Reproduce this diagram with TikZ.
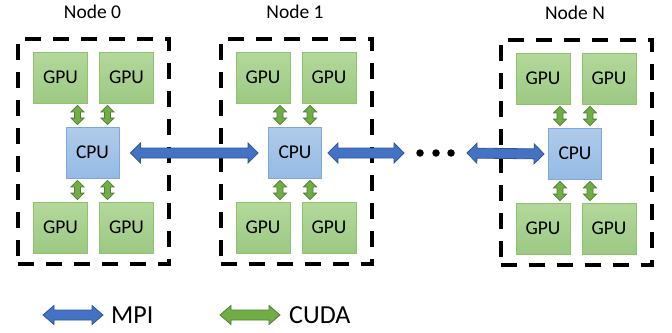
\documentclass[tikz,border=0pt]{standalone}
\usepackage{fontspec}
\setmainfont{Carlito}
\usetikzlibrary{calc}
\definecolor{gpuTop}{HTML}{B3D89B}
\definecolor{gpuBot}{HTML}{9CC983}
\definecolor{gpuLine}{HTML}{8FC26B}
\definecolor{cpuTop}{HTML}{B0CBEA}
\definecolor{cpuBot}{HTML}{95BBE5}
\definecolor{cpuLine}{HTML}{7EA8DA}
\definecolor{mpiFill}{HTML}{4472C4}
\definecolor{mpiLine}{HTML}{2F5597}
\definecolor{cudaFill}{HTML}{70AD47}
\definecolor{cudaLine}{HTML}{507E32}
% double-headed block arrow: start, end, style, shaft half, head half, head length
\newcommand\dblarrow[6]{%
  \filldraw[#3] (#1)
   -- ($(#1)!#6!(#2)!#5!90:(#2)$)
   -- ($(#1)!#6!(#2)!#4!90:(#2)$)
   -- ($(#2)!#6!(#1)!#4!-90:(#1)$)
   -- ($(#2)!#6!(#1)!#5!-90:(#1)$)
   -- (#2)
   -- ($(#2)!#6!(#1)!#5!90:(#1)$)
   -- ($(#2)!#6!(#1)!#4!90:(#1)$)
   -- ($(#1)!#6!(#2)!#4!-90:(#2)$)
   -- ($(#1)!#6!(#2)!#5!-90:(#2)$)
   -- cycle;}
% one compute node: name, cx, cy, label
\newcommand\computenode[4]{%
  \node[nodebox] (#1box) at (#2,#3) {};
  \node[lbl] (#1lbl) at (#2-1,#3-139.5) {#4};
  \node[cpu] (#1cpu) at (#2-1,#3+1) {CPU};
  \node[gpu] (#1ga) at (#2-33,#3-74) {GPU};
  \node[gpu] (#1gb) at (#2+33,#3-74) {GPU};
  \node[gpu] (#1gc) at (#2-33,#3+76) {GPU};
  \node[gpu] (#1gd) at (#2+33,#3+76) {GPU};
  \coordinate (#1t1a) at ($(#1ga.south -| #1cpu.north)+(-15,2)$);
  \coordinate (#1t1b) at ($(#1cpu.north)+(-15,-2)$);
  \coordinate (#1t2a) at ($(#1gb.south -| #1cpu.north)+(15,2)$);
  \coordinate (#1t2b) at ($(#1cpu.north)+(15,-2)$);
  \coordinate (#1b1a) at ($(#1cpu.south)+(-15,2)$);
  \coordinate (#1b1b) at ($(#1gc.north -| #1cpu.south)+(-15,-2)$);
  \coordinate (#1b2a) at ($(#1cpu.south)+(15,2)$);
  \coordinate (#1b2b) at ($(#1gd.north -| #1cpu.south)+(15,-2)$);
  \dblarrow{#1t1a}{#1t1b}{cudaarrow}{3pt}{6.5pt}{6.5pt}
  \dblarrow{#1t2a}{#1t2b}{cudaarrow}{3pt}{6.5pt}{6.5pt}
  \dblarrow{#1b1a}{#1b1b}{cudaarrow}{3pt}{6.5pt}{6.5pt}
  \dblarrow{#1b2a}{#1b2b}{cudaarrow}{3pt}{6.5pt}{6.5pt}
}
\begin{document}
\begin{tikzpicture}[x=1pt,y=-1pt,
  gpu/.style={draw=gpuLine, line width=0.8pt, top color=gpuTop, bottom color=gpuBot,
    minimum width=54pt, minimum height=51pt, inner sep=0pt,
    font=\fontsize{19.5}{22}\selectfont},
  cpu/.style={draw=cpuLine, line width=0.8pt, top color=cpuTop, bottom color=cpuBot,
    minimum width=53pt, minimum height=51pt, inner sep=0pt,
    font=\fontsize{19.5}{22}\selectfont},
  nodebox/.style={draw=black, line width=4pt, dash pattern=on 16pt off 12pt,
    minimum width=151pt, minimum height=225pt, inner sep=0pt, outer sep=0pt},
  lbl/.style={inner sep=0pt, font=\fontsize{19.5}{22}\selectfont},
  legtext/.style={inner sep=0pt, anchor=west, font=\fontsize{26}{28}\selectfont},
  mpiarrow/.style={fill=mpiFill, draw=mpiLine, line width=0.8pt},
  cudaarrow/.style={fill=cudaFill, draw=cudaLine, line width=0.8pt},
  dot/.style={circle, fill=black, inner sep=0pt, minimum size=7.5pt}
]
\useasboundingbox (0,0) rectangle (672,332);
\computenode{n0}{93.5}{151.5}{Node 0}
\computenode{n1}{296}{151.5}{Node 1}
\computenode{nN}{576}{152.5}{Node N}
% ellipsis dots
\node[dot] (d1) at (420,153) {};
\node[dot] (d2) at (436,153) {};
\node[dot] (d3) at (451,153) {};
% MPI connections
\coordinate (m1a) at ($(n0cpu.east)+(11,0.5)$);
\coordinate (m1b) at ($(n1cpu.west)+(-10,0.5)$);
\coordinate (m2a) at ($(n1cpu.east)+(6,0.5)$);
\coordinate (m2b) at ($(d1.west)+(-12,0)$);
\coordinate (m3a) at ($(d3.east)+(12,0)$);
\coordinate (m3b) at ($(nNcpu.west)+(-4,0.5)$);
\dblarrow{m1a}{m1b}{mpiarrow}{5pt}{10pt}{10pt}
\dblarrow{m2a}{m2b}{mpiarrow}{5pt}{10pt}{10pt}
\dblarrow{m3a}{m3b}{mpiarrow}{5pt}{10pt}{10pt}
% legend
\coordinate (lm1) at (43,315);
\coordinate (lm2) at (103,315);
\coordinate (lc1) at (220,315);
\coordinate (lc2) at (280,315);
\dblarrow{lm1}{lm2}{mpiarrow}{5pt}{9.5pt}{11pt}
\dblarrow{lc1}{lc2}{cudaarrow}{5pt}{9.5pt}{11pt}
\node[legtext] (lmpi) at (111,315) {MPI};
\node[legtext] (lcuda) at (289,315) {CUDA};
\end{tikzpicture}
\end{document}
